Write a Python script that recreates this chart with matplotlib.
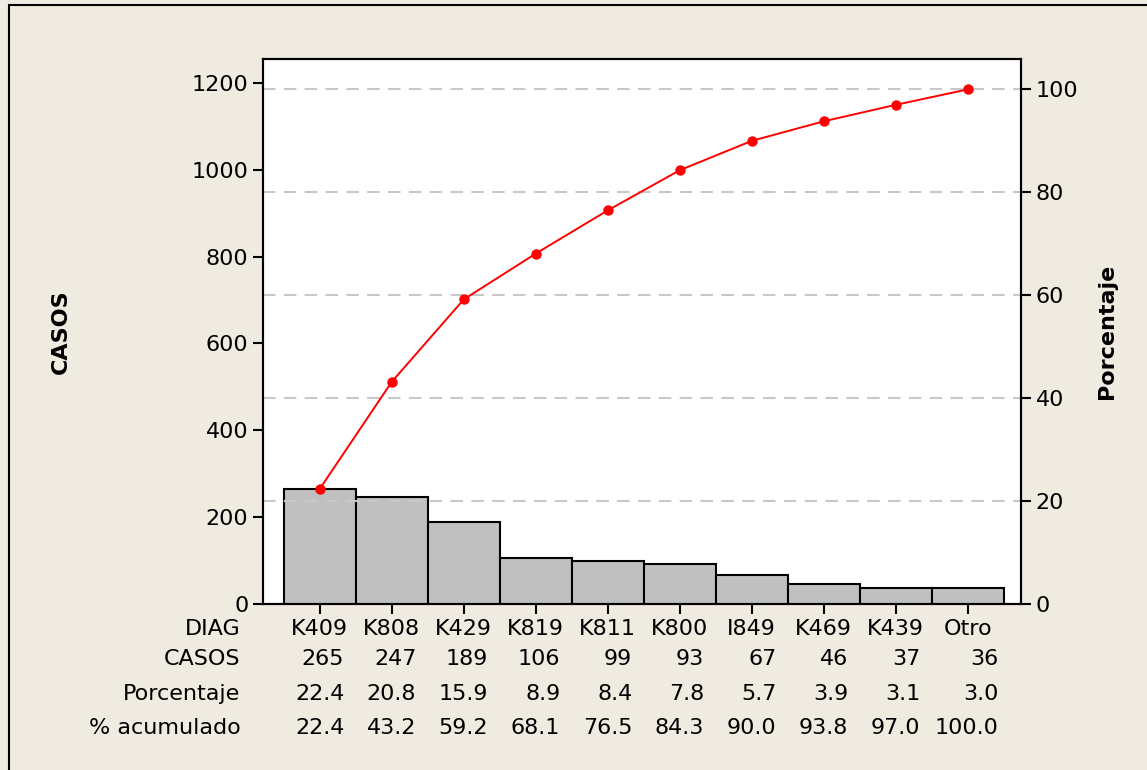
import matplotlib
matplotlib.use("Agg")
import matplotlib.pyplot as plt
from matplotlib.patches import Rectangle

# Pareto data
diag = ["K409", "K808", "K429", "K819", "K811", "K800", "I849", "K469", "K439", "Otro"]
casos = [265, 247, 189, 106, 99, 93, 67, 46, 37, 36]
porcentaje = [22.4, 20.8, 15.9, 8.9, 8.4, 7.8, 5.7, 3.9, 3.1, 3.0]
acumulado = [22.4, 43.2, 59.2, 68.1, 76.5, 84.3, 90.0, 93.8, 97.0, 100.0]

left_ticks = [0, 200, 400, 600, 800, 1000, 1200]
right_ticks = [0, 20, 40, 60, 80, 100]

plt.rcParams['font.family'] = ['DejaVu Sans']
bg = '#EFEBE1'

fig = plt.figure(figsize=(11.47, 7.70), dpi=100)
fig.patch.set_facecolor(bg)
# outer frame
fig.patches.append(Rectangle((9 / 1147, -0.05), 1.2, 1 - 5 / 770 + 0.05,
                             transform=fig.transFigure, fill=False,
                             edgecolor='black', linewidth=1.5))

ax = fig.add_axes([263 / 1147, 1 - 604 / 770, 758 / 1147, 545 / 770])
ax.set_facecolor('white')
total = sum(casos)
ytop = 1255
x = list(range(len(diag)))

ax.bar(x, casos, width=1.0, color='#C0C0C0', edgecolor='black', linewidth=1.5, zorder=3)
ax.set_xlim(-0.79, 9.74)
ax.set_ylim(0, ytop)
ax.set_yticks(left_ticks)
ax.set_xticks(x)
ax.set_xticklabels([])
ax.tick_params(axis='both', direction='out', length=7, width=1.5, labelsize=16)
for s in ax.spines.values():
    s.set_linewidth(1.5)
ax.set_ylabel('CASOS', fontsize=16, fontweight='bold')

ax2 = ax.twinx()
ax2.set_ylim(0, ytop / total * 100)
ax2.set_yticks(right_ticks)
ax2.tick_params(axis='y', direction='out', length=7, width=1.5, labelsize=16)
for s in ax2.spines.values():
    s.set_linewidth(1.5)
for t in right_ticks[1:]:
    ax2.axhline(t, color='#C8C8C8', linestyle=(0, (6, 4)), linewidth=1.5, zorder=1)
ax2.plot(x, acumulado, color='red', linewidth=1.4, marker='o', markersize=6.5, zorder=5)
ax2.set_ylabel('Porcentaje', fontsize=16, fontweight='bold')
ax2.yaxis.set_label_coords(1.100, 0.5)
ax.yaxis.set_label_coords(-0.253, 0.5)
ax.set_zorder(ax2.get_zorder() - 1)
ax2.patch.set_visible(False)

# data table under the chart
trans = ax.get_xaxis_transform()
row_y = [(604 - 629) / 545, (604 - 659) / 545, (604 - 694) / 545, (604 - 728) / 545]
row_names = ['DIAG', 'CASOS', 'Porcentaje', '% acumulado']
for name, yy in zip(row_names, row_y):
    ax.text(-0.03, yy, name, transform=ax.transAxes, ha='right', va='center', fontsize=16)

for i in x:
    cells = [str(casos[i]), f"{porcentaje[i]:.1f}", f"{acumulado[i]:.1f}"]
    off = 0.085 * max(len(c) for c in cells)
    ax.text(i, row_y[0], diag[i], transform=trans, ha='center', va='center', fontsize=16)
    for c, yy in zip(cells, row_y[1:]):
        ax.text(i + off, yy, c, transform=trans, ha='right', va='center', fontsize=16)

fig.savefig('out.png', dpi=100, facecolor=bg)
